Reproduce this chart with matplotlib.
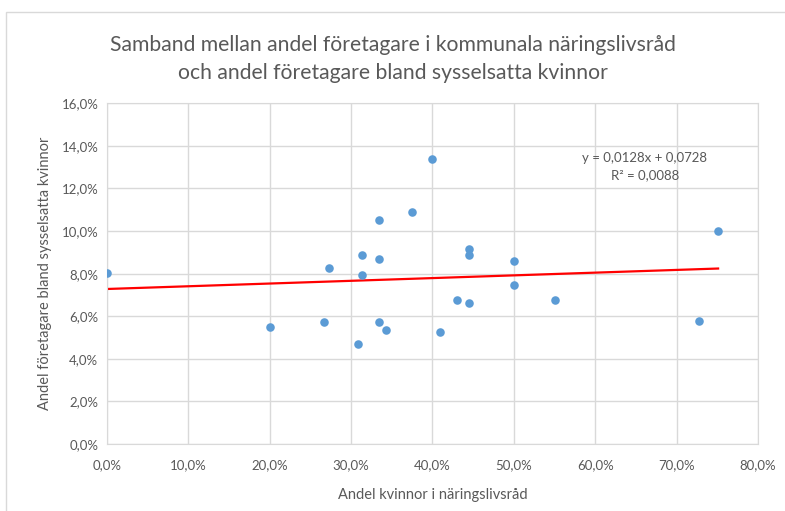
import numpy as np
import matplotlib.pyplot as plt
from matplotlib.ticker import FuncFormatter, MultipleLocator
from matplotlib.patches import Rectangle

plt.rcParams['font.family'] = ['Lato', 'DejaVu Sans']

# share of women in the councils (x) and share of entrepreneurs among employed women (y)
andel_kvinnor = [0.0, 20.0, 26.7, 27.3, 30.9, 31.4, 31.4, 33.4, 33.4, 33.4, 34.3, 37.5, 40.0,
                 40.9, 43.0, 44.5, 44.5, 44.5, 50.0, 50.0, 55.1, 72.8, 75.1]
andel_foretagare = [8.03, 5.49, 5.73, 8.28, 4.71, 8.87, 7.93, 10.53, 8.69, 5.73, 5.37, 10.88, 13.38,
                    5.24, 6.75, 6.62, 9.17, 8.86, 8.58, 7.45, 6.75, 5.79, 10.0]

# trendline as reported in the chart
k = 0.0128
m = 0.0728

x = np.array(andel_kvinnor) / 100
y = np.array(andel_foretagare) / 100

fig = plt.figure(figsize=(7.85, 5.11), dpi=100)
fig.patches.append(Rectangle((6 / 785, -0.01), 1.0, 1 - 12 / 511 + 0.01, transform=fig.transFigure,
                             fill=False, edgecolor='#D9D9D9', linewidth=1))
ax = fig.add_axes([0.1359, 0.1311, 0.8297, 0.6667])

ax.scatter(x, y, s=38, color='#5B9BD5', zorder=3, linewidths=0)
xt = np.array([0, x.max()])
ax.plot(xt, k * xt + m, color='#FF0000', linewidth=1.6, zorder=2)

ax.set_xlim(0, 0.8)
ax.set_ylim(0, 0.16)
ax.xaxis.set_major_locator(MultipleLocator(0.1))
ax.yaxis.set_major_locator(MultipleLocator(0.02))
fmt = FuncFormatter(lambda v, p: f'{v * 100:.1f}%'.replace('.', ','))
ax.xaxis.set_major_formatter(fmt)
ax.yaxis.set_major_formatter(fmt)
ax.grid(True, color='#D9D9D9', linewidth=1)
ax.set_axisbelow(True)
for s in ax.spines.values():
    s.set_color('#D9D9D9')
ax.tick_params(length=0, labelsize=9.5, colors='#595959')
ax.tick_params(axis='x', pad=11)
ax.tick_params(axis='y', pad=6)

ax.set_xlabel('Andel kvinnor i näringslivsråd', fontsize=10.5, color='#595959', labelpad=12)
ax.set_ylabel('Andel företagare bland sysselsatta kvinnor', fontsize=10.5, color='#595959', labelpad=7)

ax.text(0.661, 0.1303, 'y = 0,0128x + 0,0728\nR² = 0,0088', ha='center', va='center',
        fontsize=9.5, color='#595959', linespacing=1.45)

fig.text(0.5, 0.884, 'Samband mellan andel företagare i kommunala näringslivsråd\n'
         'och andel företagare bland sysselsatta kvinnor', ha='center', va='center',
         fontsize=15.2, color='#595959', linespacing=1.5)

fig.savefig('out.png', dpi=100)
